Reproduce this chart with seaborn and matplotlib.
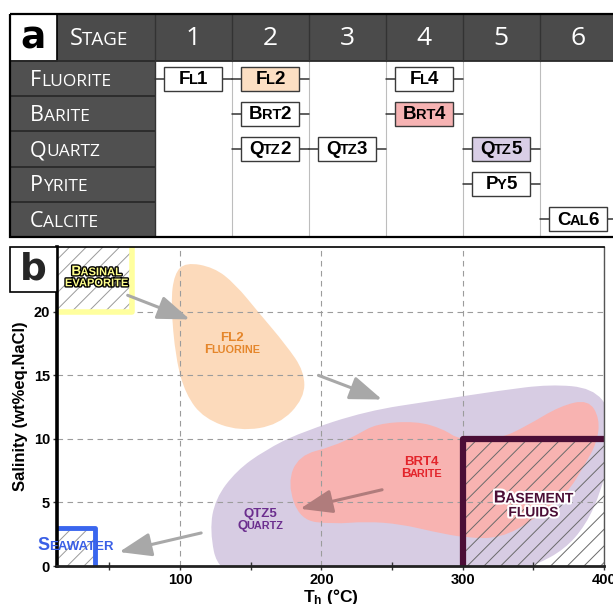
import numpy as np
import pandas as pd
import matplotlib
matplotlib.use("Agg")
import matplotlib.pyplot as plt
import seaborn as sns
from matplotlib.patches import Rectangle, PathPatch, FancyArrowPatch
from matplotlib.path import Path
from matplotlib.offsetbox import TextArea, HPacker, VPacker, AnnotationBbox
import matplotlib.patheffects as pe

sns.set_theme(style="white")
plt.rcParams['font.family'] = ['Liberation Sans', 'DejaVu Sans']
plt.rcParams['hatch.linewidth'] = 0.7
plt.rcParams['mathtext.fontset'] = 'custom'
plt.rcParams['mathtext.rm'] = 'Liberation Sans'
plt.rcParams['mathtext.bf'] = 'Liberation Sans:bold'

# ---------------- data ----------------
stages = ["1", "2", "3", "4", "5", "6"]
minerals = ["Fluorite", "Barite", "Quartz", "Pyrite", "Calcite"]
entry_label = ["Fl1", "Fl2", "Fl4", "Brt2", "Brt4", "Qtz2", "Qtz3", "Qtz5", "Py5", "Cal6"]
entry_mineral = ["Fluorite", "Fluorite", "Fluorite", "Barite", "Barite",
                 "Quartz", "Quartz", "Quartz", "Pyrite", "Calcite"]
entry_stage = [1, 2, 4, 2, 4, 2, 3, 5, 5, 6]

# fluid-inclusion fields (Th in degC, salinity wt% eq. NaCl)
fl2_T = [96, 104, 124, 139, 156, 175, 188, 188, 170, 142, 117, 104, 97, 93.5]
fl2_S = [23.0, 23.9, 23.5, 22.2, 19.9, 17.4, 15.3, 13.2, 11.1, 10.6, 11.6, 13.5, 16.3, 20.7]

qtz5_T = [127, 121, 125, 140, 160, 185, 232, 279, 326, 362, 392, 405, 405, 398, 387, 372, 352, 330, 250, 160]
qtz5_S = [-0.5, 2.8, 5.3, 7.5, 9.1, 10.5, 12.2, 13.0, 13.8, 14.3, 14.0, 12.2, 9.0, 5.9, 3.2, 1.3, 0.1, -0.8, -1.5, -1.2]

brt4_T = [176, 184, 208, 225, 239, 267, 286, 298, 326, 345, 369, 389, 397, 395, 386, 374, 350, 327, 303, 279, 256, 232, 208, 185]
brt4_S = [6.5, 8.7, 9.4, 10.3, 11.2, 11.4, 10.8, 9.9, 10.0, 11.0, 12.6, 13.1, 11.6, 9.7, 7.9, 5.7, 3.6, 2.2, 2.2, 2.7, 3.3, 3.5, 3.3, 3.6]

seawater_T = [0, 40]
seawater_S = [0, 3]
basinal_T = [0, 66]
basinal_S = [20, 26]
basement_T = [300, 400]
basement_S = [0, 10]

arrow_from_T = [63, 198, 115, 243]
arrow_from_S = [21.3, 15.0, 2.6, 6.0]
arrow_to_T = [107, 243, 57, 185]
arrow_to_S = [19.4, 13.1, 1.1, 4.5]

xticks = [100, 200, 300, 400]
yticks = [0, 5, 10, 15, 20]

# ---------------- helpers ----------------
def sc_runs(s, big, small):
    runs = []
    for ch in s:
        size = small if ch.islower() else big
        if runs and runs[-1][1] == size:
            runs[-1][0] += ch.upper()
        else:
            runs.append([ch.upper(), size])
    return runs


def sc_text(ax, x, y, lines, big, small, color, weight='bold', family=None,
            ha='center', va='center', effects=None, coords='data', zorder=6, sep=0, hsep=-0.6):
    rows = []
    for line in lines:
        kids = []
        for t, sz in sc_runs(line, big, small):
            tp = dict(fontsize=sz, color=color, fontweight=weight)
            if family:
                tp['family'] = family
            if effects:
                tp['path_effects'] = effects
            kids.append(TextArea(t, textprops=tp))
        rows.append(HPacker(children=kids, align='baseline', pad=0, sep=hsep))
    box = VPacker(children=rows, align='center', pad=0, sep=sep) if len(rows) > 1 else rows[0]
    bx = {'left': 0, 'center': 0.5, 'right': 1}[ha]
    by = {'bottom': 0, 'center': 0.5, 'top': 1}[va]
    ab = AnnotationBbox(box, (x, y), xycoords=coords, frameon=False,
                        box_alignment=(bx, by), pad=0, annotation_clip=False)
    ab.set_zorder(zorder)
    ax.add_artist(ab)
    return ab


def smooth_closed(T, S):
    P = np.column_stack([T, S]).astype(float)
    mids = (P + np.roll(P, -1, axis=0)) / 2
    verts = [mids[-1]]
    codes = [Path.MOVETO]
    for i in range(len(P)):
        verts += [P[i], mids[i]]
        codes += [Path.CURVE3, Path.CURVE3]
    return Path(verts, codes)


W, H = 613, 604
fig = plt.figure(figsize=(W / 100, H / 100), dpi=100)
fig.patch.set_facecolor('white')

# ================= panel a =================
axa = fig.add_axes([10 / W, 1 - 237 / H, (613 - 10) / W, (237 - 14) / H])
axa.axis('off')
XL, XR = -1.377, 6.4545
YT, YB = -1.833, 4.5
AX_END = -0.767
dark = '#4b4b4b'

axa.add_patch(Rectangle((AX_END, YT), XR - AX_END + 1, -0.5 - YT, fc=dark, ec='none', zorder=1))
axa.add_patch(Rectangle((XL, -0.5), 0.5 - XL, YB + 0.5, fc='#505050', ec='none', zorder=1))
axa.add_patch(Rectangle((XL, YT), AX_END - XL, -0.5 - YT, fc='white', ec='black', lw=1.2, zorder=2))
for k in range(len(minerals) - 1):
    axa.plot([XL, 0.5], [k + 0.5, k + 0.5], color='#2a2a2a', lw=1.3, zorder=2)
axa.plot([XL, XR], [-0.5, -0.5], color='#2a2a2a', lw=1.3, zorder=2)
for k in range(len(stages)):
    axa.plot([k + 0.5, k + 0.5], [YT, -0.5], color='#333333', lw=1.0, zorder=2)
    if k > 0:
        axa.plot([k + 0.5, k + 0.5], [-0.5, YB], color='#bdbdbd', lw=0.8, zorder=1)
axa.plot([0.5, 0.5], [-0.5, YB], color='#333333', lw=1.0, zorder=2)
axa.add_patch(Rectangle((XL, YT), XR - XL + 1, YB - YT, fill=False, ec='black', lw=1.6,
                        zorder=4, clip_on=False))

axa.text((XL + AX_END) / 2, (YT - 0.5) / 2 + 0.02, "a", fontsize=27, fontweight='bold',
         color='black', ha='center', va='center', family='DejaVu Sans', zorder=5)
sc_text(axa, -0.22, (YT - 0.5) / 2 + 0.05, ["Stage"], 17, 13.5, 'white', weight='normal',
        family='Open Sans', hsep=0)
for k, st in enumerate(stages):
    axa.text(k + 1, (YT - 0.5) / 2 + 0.02, st, fontsize=19, color='white', ha='center',
             va='center', family='Open Sans', zorder=5)
for r, m in enumerate(minerals):
    sc_text(axa, -1.12, r + 0.05, [m], 15.5, 12.5, 'white', weight='normal', family='Open Sans',
            ha='left', hsep=0)

# connecting lines through seaborn
rows_idx = [minerals.index(m) for m in entry_mineral]
seg = pd.DataFrame({
    'id': np.repeat(np.arange(len(entry_label)), 2),
    'x': np.ravel([[s - 0.5, s + 0.5] for s in entry_stage]),
    'y': np.repeat(rows_idx, 2),
})
sns.lineplot(data=seg, x='x', y='y', units='id', estimator=None, sort=False,
             color='#333333', lw=1.1, ax=axa, legend=False)

highlight = {"Fl2": "#FCDFC3", "Brt4": "#F6B3B3", "Qtz5": "#D9CEE6"}
for lab, s, r in zip(entry_label, entry_stage, rows_idx):
    axa.add_patch(Rectangle((s - 0.375, r - 0.34), 0.75, 0.68, fc=highlight.get(lab, 'white'),
                            ec='#3a3a3a', lw=1.0, zorder=3))
    sc_text(axa, s, r + 0.02, [lab], 13.5, 10.5, 'black', weight='bold')

axa.set_xlim(XL, XR)
axa.set_ylim(YB, YT)
axa.set_xlabel('')
axa.set_ylabel('')

# ================= panel b =================
axb = fig.add_axes([57 / W, 1 - 566 / H, 547 / W, 319 / H])
axb.set_xlim(13, 400)
axb.set_ylim(0, 25.1)

axb.add_patch(PathPatch(smooth_closed(qtz5_T, qtz5_S), fc='#D7CCE3', ec='none', zorder=1))
axb.add_patch(PathPatch(smooth_closed(brt4_T, brt4_S), fc='#F8B3B1', ec='none', zorder=1.1))
axb.add_patch(PathPatch(smooth_closed(fl2_T, fl2_S), fc='#FCDABB', ec='none', zorder=1.1))

# reference fluid boxes
axb.add_patch(Rectangle((seawater_T[0], seawater_S[0]), seawater_T[1] - seawater_T[0],
                        seawater_S[1] - seawater_S[0], fill=False, hatch='//', ec='#9a9a9a',
                        lw=0, zorder=1.5))
axb.add_patch(Rectangle((basinal_T[0], basinal_S[0]), basinal_T[1] - basinal_T[0],
                        basinal_S[1] - basinal_S[0], fill=False, hatch='//', ec='#9a9a9a',
                        lw=0, zorder=1.5))
axb.add_patch(Rectangle((basement_T[0], basement_S[0]), basement_T[1] - basement_T[0],
                        basement_S[1] - basement_S[0], fill=False, hatch='//', ec='#6a6a6a',
                        lw=0, zorder=1.5))
axb.plot([seawater_T[0], seawater_T[1], seawater_T[1]], [seawater_S[1], seawater_S[1], seawater_S[0]],
         color='#3A66EE', lw=3.5, zorder=3, solid_capstyle='butt')
axb.plot([basinal_T[0], basinal_T[1], basinal_T[1]], [basinal_S[0], basinal_S[0], basinal_S[1]],
         color='#FFFF9E', lw=4, zorder=3, solid_capstyle='butt')
axb.plot([basement_T[0], basement_T[0], basement_T[1]], [basement_S[0], basement_S[1], basement_S[1]],
         color='#4B0E36', lw=4.5, zorder=3, solid_capstyle='butt')

# arrows
arrow_colors = ['#A8A8A8', '#A8A8A8', '#A8A8A8', '#B07C7C']
for x0, y0, x1, y1, c in zip(arrow_from_T, arrow_from_S, arrow_to_T, arrow_to_S, arrow_colors):
    axb.add_patch(FancyArrowPatch((x0, y0), (x1, y1),
                                  arrowstyle='-|>,head_length=0.9,head_width=0.33',
                                  mutation_scale=22, color=c, lw=2.2, zorder=4,
                                  shrinkA=0, shrinkB=0))

# grid
axb.grid(True, which='major', color='#9c9c9c', ls=(0, (5, 4)), lw=0.8)
axb.set_axisbelow(False)
axb.set_xticks(xticks)
axb.set_xticks([50, 150, 250, 350], minor=True)
axb.set_yticks(yticks)
axb.tick_params(which='both', bottom=True, left=True, direction='out', length=3,
                width=1, color='#333333', labelsize=10.5, labelcolor='black', pad=2)
axb.tick_params(which='minor', direction='inout', length=6)
for t in axb.get_xticklabels() + axb.get_yticklabels():
    t.set_fontweight('bold')
axb.grid(False, which='minor')

axb.spines['left'].set_linewidth(2.6)
axb.spines['left'].set_color('black')
axb.spines['bottom'].set_linewidth(2.0)
axb.spines['bottom'].set_color('#222222')
axb.spines['top'].set_linewidth(1.2)
axb.spines['top'].set_color('black')
axb.spines['right'].set_linewidth(1.0)
axb.spines['right'].set_color('#555555')
for sp in axb.spines.values():
    sp.set_visible(True)
    sp.set_zorder(5)

axb.set_xlabel(r"$\mathbf{T_h}$ (°C)", fontsize=12.5, fontweight='bold', color='black', labelpad=-0.3)
axb.set_ylabel("Salinity (wt%eq.NaCl)", fontsize=12, fontweight='bold', color='black', labelpad=4)

# "b" label box
fig.patches.append(Rectangle((10 / W, 1 - 292 / H), 47 / W, 45 / H, transform=fig.transFigure,
                             fc='white', ec='black', lw=1.2, figure=fig, zorder=10))
fig.text(33.5 / W, 1 - 270 / H, "b", fontsize=27, fontweight='bold', family='DejaVu Sans',
         ha='center', va='center', zorder=11)

# labels in panel b
sc_text(axb, 137, 17.5, ["FL2", "Fluorine"], 9.5, 7.8, '#E5862B')
sc_text(axb, 271, 7.7, ["BRT4", "Barite"], 9.5, 7.8, '#E3242B')
sc_text(axb, 157, 3.6, ["QTZ5", "Quartz"], 9.5, 7.8, '#6B2E8E')
sc_text(axb, 350, 4.8, ["Basement", "fluids"], 12.5, 10, '#4B0E36',
        effects=[pe.withStroke(linewidth=3, foreground='white')])
sc_text(axb, 41, 22.8, ["Basinal", "evaporite"], 10, 8, '#FFFF8C',
        effects=[pe.withStroke(linewidth=2, foreground='black')])
sc_text(axb, -0.5, 1.6, ["Seawater"], 13, 9.5, '#3A5FE6', ha='left', zorder=7)

fig.savefig("out.png", dpi=100)
